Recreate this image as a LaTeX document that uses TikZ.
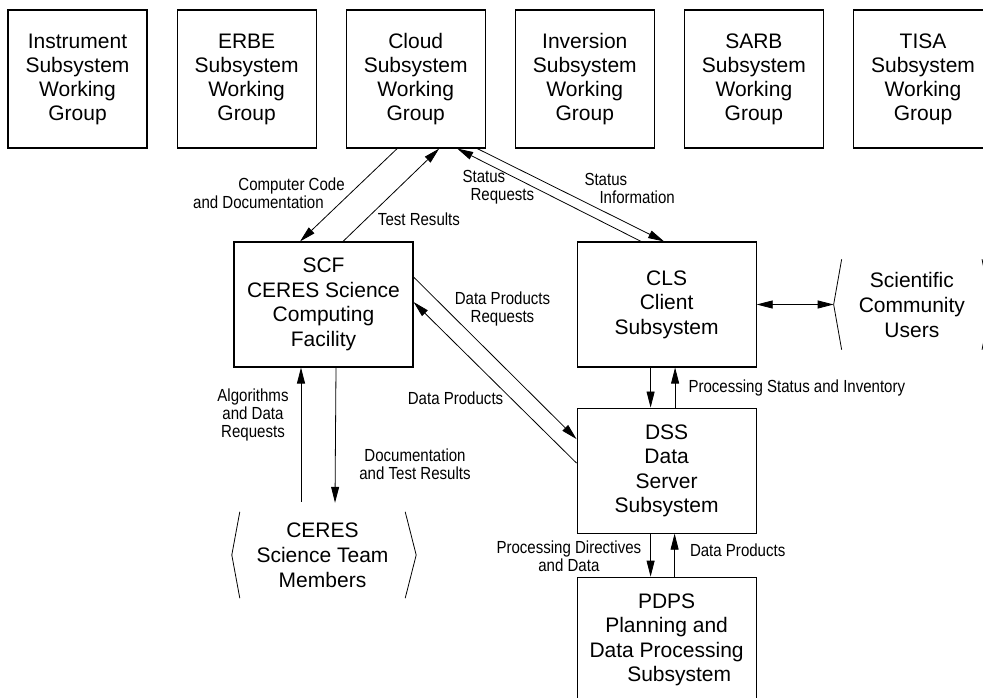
\documentclass[tikz,border=0pt]{standalone}
\usepackage{fontspec}
\setmainfont{Liberation Sans}
\newfontfamily\narrowsf[FakeStretch=0.86]{Liberation Sans}
\usepackage{tikz}
\usetikzlibrary{arrows.meta,positioning}
\tikzstyle{wgroup} = [rectangle, draw, line width=1.1pt, minimum width=139pt, minimum height=138pt, align=center, font=\fontsize{21}{24}\selectfont]
\tikzstyle{subsystem} = [rectangle, draw, line width=1.1pt, minimum width=179pt, minimum height=125pt, align=center, font=\fontsize{21}{24.5}\selectfont]
\tikzstyle{users} = [rectangle, align=center, font=\fontsize{21}{25}\selectfont]
\tikzstyle{flow} = [line width=0.8pt, ->, >={Triangle[length=16pt,width=8pt]}]
\tikzstyle{bracket} = [line width=0.8pt]
\tikzstyle{lbl} = [inner sep=0pt, align=center, font=\narrowsf\fontsize{17.5}{18}\selectfont]

\begin{document}
\begin{tikzpicture}[x=1pt, y=-1pt]
\useasboundingbox (0,0) rectangle (983,698);
% Working groups
\node (instr) [wgroup] at (77.5,79) {Instrument\\Subsystem\\Working\\Group};
\node (erbe) [wgroup, right=29pt of instr] {ERBE\\Subsystem\\Working\\Group};
\node (cloud) [wgroup, right=29pt of erbe] {Cloud\\Subsystem\\Working\\Group};
\node (inv) [wgroup, right=29pt of cloud] {Inversion\\Subsystem\\Working\\Group};
\node (sarb) [wgroup, right=29pt of inv] {SARB\\Subsystem\\Working\\Group};
\node (tisa) [wgroup, right=29pt of sarb] {TISA\\Subsystem\\Working\\Group};

% Subsystems
\node (scf) [subsystem] at (323.5,304.5) {SCF\\CERES Science\\Computing\\Facility};
\node (cls) [subsystem, right=163pt of scf] {CLS\\Client\\Subsystem};
\node (dss) [subsystem, below=40pt of cls] {DSS\\Data\\Server\\Subsystem};
\node (pdps) [subsystem, below=43pt of dss] {PDPS\\Planning and\\Data Processing\\\hspace*{1.2em}Subsystem};

% Users
\node (sci) [users, minimum width=140pt, minimum height=90pt, right=85pt of cls] {Scientific\\Community\\Users};
\node (team) [users, minimum width=165pt, minimum height=86pt] at (322.5,555) {CERES\\Science Team\\Members};
\draw[bracket] (sci.north west) -- ([xshift=-8pt]sci.west) -- (sci.south west);
\draw[bracket] (sci.north east) -- ([xshift=9pt]sci.east) -- (sci.south east);
\draw[bracket] (team.north west) -- ([xshift=-8pt]team.west) -- (team.south west);
\draw[bracket] (team.north east) -- ([xshift=11pt]team.east) -- (team.south east);

% Cloud group flows
\draw[flow] ([xshift=-18.5pt]cloud.south) -- node[lbl, pos=.5, anchor=east, align=right, xshift=-3.5pt, yshift=2pt] {Computer Code\\and Documentation\hspace*{21pt}} ([xshift=-23.5pt]scf.north);
\draw[flow] ([xshift=19.5pt]scf.north) -- node[lbl, pos=.24, anchor=west, xshift=11.5pt] {Test Results} ([xshift=23.5pt]cloud.south);
\draw[flow] ([xshift=-25.5pt]cls.north) -- node[lbl, pos=.81, anchor=west, align=left, xshift=-30pt, yshift=-21pt] {Status\\\hspace*{8pt}Requests} ([xshift=41.5pt]cloud.south);
\draw[flow] ([xshift=61.5pt]cloud.south) -- node[lbl, pos=.77, anchor=west, align=left, xshift=-37pt, yshift=31.4pt] {Status\\\hspace*{15pt}Information} ([xshift=-2.5pt]cls.north);

% SCF and DSS
\draw[flow] ([yshift=27.5pt]scf.east) -- node[lbl, pos=.3, xshift=40pt, yshift=17pt] {Data Products\\Requests} ([yshift=31.5pt]dss.west);
\draw[flow] ([yshift=7.5pt]dss.west) -- node[lbl, pos=.5, xshift=-39.5pt, yshift=-16pt] {Data Products} ([yshift=2.5pt]scf.east);

% SCF and science team
\draw[flow] ([xshift=12.5pt]scf.south) -- node[lbl, pos=.5, xshift=79.5pt, yshift=-29pt] {Documentation\\and Test Results} ([xshift=12.5pt, yshift=9pt]team.north);
\draw[flow] ([xshift=-21.5pt, yshift=10pt]team.north) -- node[lbl, pos=.5, xshift=-48pt, yshift=19.5pt] {Algorithms\\and Data\\Requests} ([xshift=-22.5pt]scf.south);

% CLS, DSS and PDPS
\draw[flow] ([xshift=-16pt]cls.south) -- ([xshift=-16pt]dss.north);
\draw[flow] ([xshift=8.5pt]dss.north) -- node[lbl, pos=.5, anchor=west, xshift=13pt] {Processing Status and Inventory} ([xshift=8.5pt]cls.south);
\draw[flow] ([xshift=-16pt]dss.south) -- node[lbl, pos=.5, anchor=east, xshift=-9pt, yshift=-1.5pt] {Processing Directives\\and Data} ([xshift=-16pt]pdps.north);
\draw[flow] ([xshift=8pt]pdps.north) -- node[lbl, pos=.5, anchor=west, xshift=15pt, yshift=4.5pt] {Data Products} ([xshift=8pt]dss.south);
\draw[flow, <->] (cls.east) -- ([xshift=-8pt]sci.west);
\end{tikzpicture}
\end{document}
